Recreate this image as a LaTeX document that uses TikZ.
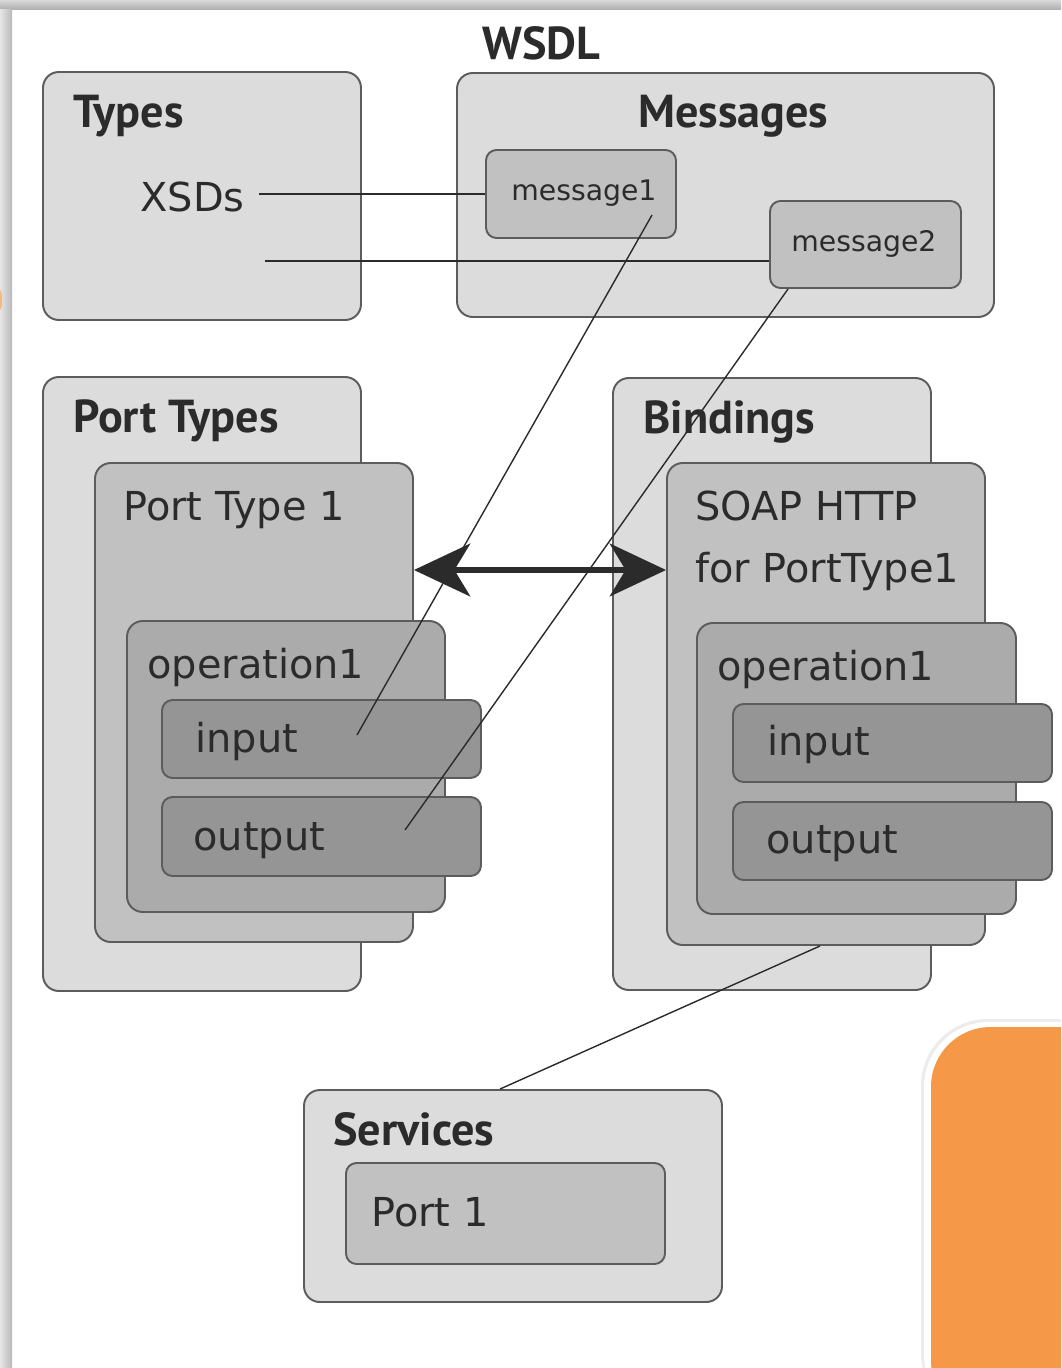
\documentclass[tikz,border=0pt]{standalone}
\usepackage{fontspec}
\setmainfont{DejaVu Sans}
\newfontfamily\headfont{PT Sans}
\usetikzlibrary{arrows.meta,fit,calc}

\definecolor{boxone}{HTML}{DCDCDC}
\definecolor{boxtwo}{HTML}{C1C1C1}
\definecolor{boxthree}{HTML}{ABABAB}
\definecolor{boxfour}{HTML}{959595}
\definecolor{edge}{HTML}{5C5C5C}
\definecolor{ink}{HTML}{2B2B2B}
\definecolor{cardorange}{HTML}{F59847}

\tikzset{
  box/.style={draw=edge, line width=1.1pt, rounded corners=9pt, inner sep=0pt},
  lvlone/.style={box, fill=boxone},
  lvltwo/.style={box, fill=boxtwo},
  lvlthree/.style={box, fill=boxthree},
  lvlfour/.style={box, fill=boxfour, rounded corners=6pt},
  boxtitle/.style={anchor=base west, inner sep=0pt, text=ink,
    font=\headfont\bfseries\fontsize{26.3}{31}\selectfont},
  lbl/.style={anchor=base west, inner sep=0pt, text=ink,
    font=\fontsize{22.7}{27}\selectfont},
  msgtext/.style={anchor=base west, inner sep=0pt, text=ink,
    font=\fontsize{16.1}{19}\selectfont},
  link/.style={draw=ink, line width=0.8pt},
  biarrow/.style={draw=ink, line width=3.4pt,
    {Stealth[length=32pt,width=30pt,inset=9pt]}-{Stealth[length=32pt,width=30pt,inset=9pt]}}
}

\begin{document}
\begin{tikzpicture}[x=0.02cm, y=-0.02cm]
  \useasboundingbox (0,0) rectangle (1061,1368);
  \begin{scope}
    \clip (0,0) rectangle (1061,1368);
    % window frame and the slide next to it
    \shade[top color=gray!30, bottom color=gray!65] (0,0) rectangle (1061,10);
    \shade[left color=gray!20, right color=gray!55] (0,10) rectangle (12,1368);
    \fill[cardorange!70] (0,300) ellipse (2 and 10);
    \fill[rounded corners=38pt, gray!15] (921,1019) rectangle (1120,1420);
    \fill[rounded corners=37pt, white] (924,1022) rectangle (1120,1420);
    \fill[rounded corners=34pt, cardorange] (931,1027) rectangle (1120,1420);
  \end{scope}

  \node[boxtitle] (wsdl) at (482,60) {WSDL};

  % types and messages
  \node[lvlone, fit={(43,72) (361,320)}] (types) {};
  \node[boxtitle] (typestitle) at (73,128) {Types};
  \node[lbl, anchor=base east, inner sep=8pt] (xsds) at (259,212) {XSDs};
  \coordinate (xsdsb) at (265,261);

  \node[lvlone, fit={(457,73) (994,317)}] (messages) {};
  \node[boxtitle] (messagestitle) at (638,128) {Messages};
  \node[lvltwo, rounded corners=6pt, fit={(486,150) (676,238)}] (msgone) {};
  \node[msgtext] (msgonetitle) at (511,201) {message1};
  \node[lvltwo, rounded corners=6pt, fit={(770,201) (961,288)}] (msgtwo) {};
  \node[msgtext] (msgtwotitle) at (791,252) {message2};

  % port types
  \node[lvlone, fit={(43,377) (361,991)}] (porttypes) {};
  \node[boxtitle] (porttypestitle) at (73,432) {Port Types};
  \node[lvltwo, fit={(95,463) (413,942)}] (ptone) {};
  \node[lbl] (ptonetitle) at (123,520) {Port Type 1};
  \node[lvlthree, fit={(127,621) (445,912)}] (opleft) {};
  \node[lbl] (oplefttitle) at (147,678) {operation1};
  \node[lvlfour, fit={(162,700) (481,778)}] (inleft) {};
  \node[lbl] (inlefttitle) at (195,752) {input};
  \node[lvlfour, fit={(162,797) (481,876)}] (outleft) {};
  \node[lbl] (outlefttitle) at (193,850) {output};

  % bindings
  \node[lvlone, fit={(613,378) (931,990)}] (bindings) {};
  \node[boxtitle] (bindingstitle) at (643,433) {Bindings};
  \node[lvltwo, fit={(667,463) (985,945)}] (soap) {};
  \node[lbl] (soaptitle) at (695,520) {SOAP HTTP};
  \node[lbl] (soapfor) at (695,582) {for PortType1};
  \node[lvlthree, fit={(697,623) (1016,914)}] (opright) {};
  \node[lbl] (oprighttitle) at (717,680) {operation1};
  \node[lvlfour, fit={(733,704) (1052,782)}] (inright) {};
  \node[lbl] (inrighttitle) at (767,755) {input};
  \node[lvlfour, fit={(733,802) (1052,880)}] (outright) {};
  \node[lbl] (outrighttitle) at (766,853) {output};

  % services
  \node[lvlone, fit={(304,1090) (722,1302)}] (services) {};
  \node[boxtitle] (servicestitle) at (333,1145) {Services};
  \node[lvltwo, rounded corners=6pt, fit={(346,1163) (665,1264)}] (portone) {};
  \node[lbl] (portonetitle) at (371,1226) {Port 1};

  % links
  \coordinate (msgonein) at (652,215);
  \coordinate (inleftend) at (357,735);
  \coordinate (outleftend) at (405,830);
  \coordinate (arrowrow) at (540,570);
  \draw[link] (msgone.west -| xsds.east) -- (msgone.west);
  \draw[link] (xsdsb) -- (xsdsb -| msgtwo.west);
  \draw[link] (msgonein) -- (inleftend);
  \draw[link] (msgtwo.south west) ++(19,0) -- (outleftend);
  \draw[link] (soap.south) ++(-6,0) -- ($(services.north)+(-13,0)$);
  \draw[biarrow] (ptone.east |- arrowrow) -- (soap.west |- arrowrow);
\end{tikzpicture}
\end{document}
